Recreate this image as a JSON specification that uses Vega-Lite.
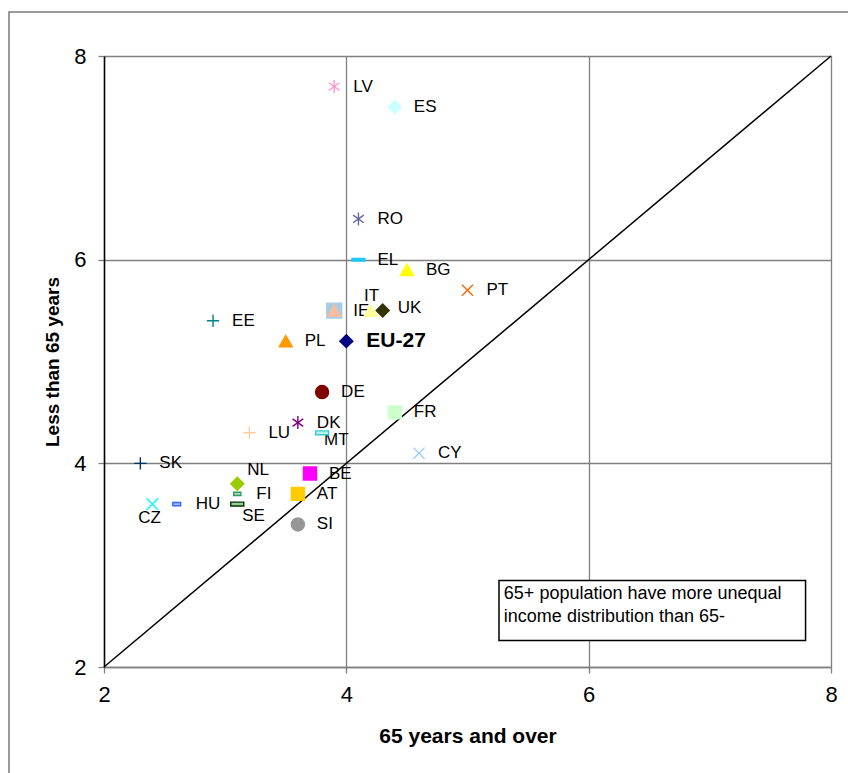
{
  "$schema": "https://vega.github.io/schema/vega-lite/v6.json",
  "width": 727,
  "height": 611,
  "autosize": {"type": "none"},
  "padding": {"left": 104, "top": 56, "right": 17, "bottom": 106},
  "background": "white",
  "config": {
    "view": {"stroke": null},
    "font": "Liberation Sans",
    "axis": {"labelFont": "Liberation Sans", "titleFont": "Liberation Sans"},
    "text": {"font": "Liberation Sans", "fontSize": 17, "color": "black", "baseline": "middle", "align": "left"}
  },
  "datasets": {
    "pts": [
      {"country": "LV", "x": 3.9, "y": 7.7},
      {"country": "ES", "x": 4.4, "y": 7.5},
      {"country": "RO", "x": 4.1, "y": 6.4},
      {"country": "EL", "x": 4.1, "y": 6.0},
      {"country": "BG", "x": 4.5, "y": 5.9},
      {"country": "PT", "x": 5.0, "y": 5.7},
      {"country": "IE", "x": 3.9, "y": 5.5},
      {"country": "LT", "x": 3.9, "y": 5.5},
      {"country": "IT", "x": 4.2, "y": 5.5},
      {"country": "UK", "x": 4.3, "y": 5.5},
      {"country": "EE", "x": 2.9, "y": 5.4},
      {"country": "PL", "x": 3.5, "y": 5.2},
      {"country": "EU-27", "x": 4.0, "y": 5.2},
      {"country": "DE", "x": 3.8, "y": 4.7},
      {"country": "FR", "x": 4.4, "y": 4.5},
      {"country": "DK", "x": 3.6, "y": 4.4},
      {"country": "MT", "x": 3.8, "y": 4.3},
      {"country": "LU", "x": 3.2, "y": 4.3},
      {"country": "CY", "x": 4.6, "y": 4.1},
      {"country": "SK", "x": 2.3, "y": 4.0},
      {"country": "NL", "x": 3.1, "y": 3.8},
      {"country": "BE", "x": 3.7, "y": 3.9},
      {"country": "FI", "x": 3.1, "y": 3.7},
      {"country": "AT", "x": 3.6, "y": 3.7},
      {"country": "HU", "x": 2.6, "y": 3.6},
      {"country": "CZ", "x": 2.4, "y": 3.6},
      {"country": "SE", "x": 3.1, "y": 3.6},
      {"country": "SI", "x": 3.6, "y": 3.4}
    ]
  },
  "layer": [
    {
      "data": {"values": [{}]},
      "mark": {"type": "rect", "fill": null, "stroke": "#7a7a7a", "strokeWidth": 1.5, "clip": false},
      "encoding": {
        "x": {"datum": 1.216, "type": "quantitative", "scale": {"domain": [2, 8], "nice": false, "zero": false}},
        "x2": {"datum": 8.3},
        "y": {"datum": 8.432, "type": "quantitative", "scale": {"domain": [2, 8], "nice": false, "zero": false}},
        "y2": {"datum": 0.8}
      }
    },
    {
      "data": {"values": [{}]},
      "mark": {"type": "rule", "color": "black", "strokeWidth": 1.5},
      "encoding": {
        "x": {
          "datum": 2, "type": "quantitative",
          "scale": {"domain": [2, 8], "nice": false, "zero": false},
          "axis": {
            "values": [2, 4, 6, 8], "format": "d", "labelFlush": false,
            "grid": true, "gridColor": "#7f7f7f", "gridWidth": 1.3,
            "domainColor": "#7f7f7f", "domainWidth": 1.5,
            "tickColor": "#7f7f7f", "tickSize": 6, "tickWidth": 1.3,
            "labelFontSize": 22, "labelColor": "black", "labelPadding": 11,
            "title": "65 years and over", "titleFontSize": 21, "titleFontWeight": "bold",
            "titleColor": "black", "titlePadding": 20
          }
        },
        "x2": {"datum": 8},
        "y": {
          "datum": 2, "type": "quantitative",
          "scale": {"domain": [2, 8], "nice": false, "zero": false},
          "axis": {
            "values": [2, 4, 6, 8], "format": "d", "labelFlush": false,
            "grid": true, "gridColor": "#7f7f7f", "gridWidth": 1.3,
            "domainColor": "black", "domainWidth": 1.5,
            "tickColor": "#7f7f7f", "tickSize": 6, "tickWidth": 1.3,
            "labelFontSize": 22, "labelColor": "black", "labelPadding": 12,
            "title": "Less than 65 years", "titleFontSize": 19, "titleFontWeight": "bold",
            "titleColor": "black", "titlePadding": 11
          }
        },
        "y2": {"datum": 8}
      }
    },
    {
      "data": {"values": [{}]},
      "mark": {"type": "rect", "fill": "white", "stroke": "black", "strokeWidth": 1.5},
      "encoding": {
        "x": {"datum": 5.26, "type": "quantitative"},
        "x2": {"datum": 7.79},
        "y": {"datum": 2.85, "type": "quantitative"},
        "y2": {"datum": 2.26}
      }
    },
    {
      "data": {"values": [{"note": ["65+ population have more unequal", "income distribution than 65-"]}]},
      "mark": {"type": "text", "align": "left", "baseline": "top", "fontSize": 18, "lineHeight": 23},
      "encoding": {
        "x": {"datum": 5.3, "type": "quantitative"},
        "y": {"datum": 2.81, "type": "quantitative"},
        "text": {"field": "note"}
      }
    },
    {
      "data": {"name": "pts"},
      "transform": [{"filter": {"not": {"field": "country", "oneOf": ["IT", "UK", "MT", "NL", "CZ", "SE", "EU-27", "LT"]}}}],
      "mark": {"type": "text", "dx": 19},
      "encoding": {
        "x": {"field": "x", "type": "quantitative"},
        "y": {"field": "y", "type": "quantitative"},
        "text": {"field": "country"}
      }
    },
    {
      "data": {"name": "pts"},
      "transform": [{"filter": {"field": "country", "equal": "EU-27"}}],
      "mark": {"type": "text", "dx": 20, "fontSize": 21, "fontWeight": "bold"},
      "encoding": {
        "x": {"field": "x", "type": "quantitative"},
        "y": {"field": "y", "type": "quantitative"},
        "text": {"field": "country"}
      }
    },
    {
      "data": {"name": "pts"},
      "transform": [{"filter": {"field": "country", "equal": "UK"}}],
      "mark": {"type": "text", "dx": 15, "dy": -3},
      "encoding": {
        "x": {"field": "x", "type": "quantitative"},
        "y": {"field": "y", "type": "quantitative"},
        "text": {"field": "country"}
      }
    },
    {
      "data": {"name": "pts"},
      "transform": [{"filter": {"field": "country", "equal": "MT"}}],
      "mark": {"type": "text", "dx": 2, "dy": 7},
      "encoding": {
        "x": {"field": "x", "type": "quantitative"},
        "y": {"field": "y", "type": "quantitative"},
        "text": {"field": "country"}
      }
    },
    {
      "data": {"name": "pts"},
      "transform": [{"filter": {"field": "country", "equal": "NL"}}],
      "mark": {"type": "text", "dx": 10, "dy": -14},
      "encoding": {
        "x": {"field": "x", "type": "quantitative"},
        "y": {"field": "y", "type": "quantitative"},
        "text": {"field": "country"}
      }
    },
    {
      "data": {"name": "pts"},
      "transform": [{"filter": {"field": "country", "equal": "SE"}}],
      "mark": {"type": "text", "dx": 5, "dy": 12},
      "encoding": {
        "x": {"field": "x", "type": "quantitative"},
        "y": {"field": "y", "type": "quantitative"},
        "text": {"field": "country"}
      }
    },
    {
      "data": {"name": "pts"},
      "transform": [{"filter": {"field": "country", "equal": "CZ"}}],
      "mark": {"type": "text", "align": "center", "dx": -3, "dy": 14},
      "encoding": {
        "x": {"field": "x", "type": "quantitative"},
        "y": {"field": "y", "type": "quantitative"},
        "text": {"field": "country"}
      }
    },
    {
      "data": {"name": "pts"},
      "mark": {"type": "point", "filled": true, "size": 169, "strokeWidth": 1.4, "opacity": 1, "fillOpacity": 1, "strokeOpacity": 1},
      "encoding": {
        "x": {"field": "x", "type": "quantitative"},
        "y": {"field": "y", "type": "quantitative"},
        "shape": {
          "field": "country", "legend": null,
          "scale": {
            "domain": ["LV", "ES", "RO", "EL", "BG", "PT", "IE", "LT", "IT", "UK", "EE", "PL", "EU-27", "DE", "FR", "DK", "MT", "LU", "CY", "SK", "NL", "BE", "FI", "AT", "HU", "CZ", "SE", "SI"],
            "range": [
              "M0,-1V1M-0.82,-0.58L0.82,0.58M-0.82,0.58L0.82,-0.58",
              "diamond",
              "M0,-1V1M-0.82,-0.58L0.82,0.58M-0.82,0.58L0.82,-0.58",
              "M-1,-0.2H1V0.2H-1Z",
              "triangle-up",
              "M-0.85,-0.85L0.85,0.85M-0.85,0.85L0.85,-0.85",
              "M-1.15,-1.15H1.15V1.15H-1.15Z",
              "triangle-up",
              "triangle-up",
              "diamond",
              "M0,-0.95V0.95M-0.95,0H0.95",
              "triangle-up",
              "diamond",
              "circle",
              "square",
              "M0,-1V1M-0.82,-0.58L0.82,0.58M-0.82,0.58L0.82,-0.58",
              "M-1,-0.3H1V0.3H-1Z",
              "M0,-0.95V0.95M-0.95,0H0.95",
              "M-0.85,-0.85L0.85,0.85M-0.85,0.85L0.85,-0.85",
              "M0,-0.95V0.95M-0.95,0H0.95",
              "diamond",
              "square",
              "M-0.55,-0.25H0.55V0.25H-0.55Z",
              "square",
              "M-0.6,-0.25H0.6V0.25H-0.6Z",
              "M-0.9,-0.9L0.9,0.9M-0.9,0.9L0.9,-0.9",
              "M-1,-0.3H1V0.3H-1Z",
              "circle"
            ]
          }
        },
        "fill": {
          "field": "country", "legend": null,
          "scale": {
            "domain": ["LV", "ES", "RO", "EL", "BG", "PT", "IE", "LT", "IT", "UK", "EE", "PL", "EU-27", "DE", "FR", "DK", "MT", "LU", "CY", "SK", "NL", "BE", "FI", "AT", "HU", "CZ", "SE", "SI"],
            "range": ["#FF99CC", "#CCFFFF", "#666699", "#1EC8F0", "#FFFF00", "#FF6600", "#A6CEE3", "#F8BCA0", "#FFFF99", "#333300", "#008080", "#FF9900", "#000080", "#800000", "#CCFFCC", "#800080", "#B8F0F0", "#FFCC99", "#99CCFF", "#003366", "#99CC00", "#FF00FF", "#A0DDC0", "#FFCC00", "#A8C0FF", "#00FFFF", "#9CCC9C", "#969696"]
          }
        },
        "stroke": {
          "field": "country", "legend": null,
          "scale": {
            "domain": ["LV", "ES", "RO", "EL", "BG", "PT", "IE", "LT", "IT", "UK", "EE", "PL", "EU-27", "DE", "FR", "DK", "MT", "LU", "CY", "SK", "NL", "BE", "FI", "AT", "HU", "CZ", "SE", "SI"],
            "range": ["#FF99CC", "#CCFFFF", "#666699", "#1EC8F0", "#FFFF00", "#FF6600", "#A6CEE3", "#F8BCA0", "#FFFF99", "#333300", "#008080", "#FF9900", "#000080", "#800000", "#CCFFCC", "#800080", "#33CCCC", "#FFCC99", "#99CCFF", "#003366", "#99CC00", "#FF00FF", "#339966", "#FFCC00", "#3366FF", "#00FFFF", "#003300", "#969696"]
          }
        },
        "order": {"field": "y", "type": "quantitative"}
      }
    },
    {
      "data": {"name": "pts"},
      "transform": [{"filter": {"field": "country", "equal": "IT"}}],
      "mark": {"type": "text", "align": "center", "dx": 1, "dy": -15},
      "encoding": {
        "x": {"field": "x", "type": "quantitative"},
        "y": {"field": "y", "type": "quantitative"},
        "text": {"field": "country"}
      }
    }
  ]
}
